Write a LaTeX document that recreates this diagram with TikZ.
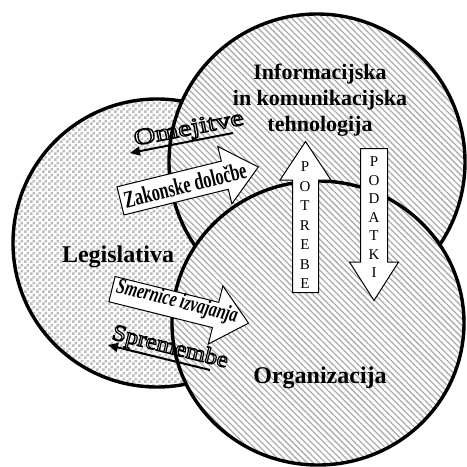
\documentclass[tikz,border=0pt]{standalone}
\usepackage{fontspec}
\setmainfont{Liberation Serif}
\usetikzlibrary{shapes.arrows, patterns.meta, arrows.meta}

% outline-only lettering (text render mode 1)
\newcommand\outlinetext[1]{%
  \special{pdf:literal direct 1 Tr 1.1 w}#1\special{pdf:literal direct 0 Tr 1 w}}

% small chequered tile for the legislation disc
\tikzdeclarepattern{
  name=chequer,
  type=uncolored,
  bottom left={(0pt,0pt)},
  top right={(6pt,6pt)},
  tile size={(6pt,6pt)},
  code={
    \fill (0pt,0pt) rectangle (3pt,3pt);
    \fill (3pt,3pt) rectangle (6pt,6pt);
  }
}

\begin{document}
\begin{tikzpicture}[x=1pt, y=-1pt,
  ring/.style={draw=black, line width=3.4pt, preaction={fill=white}},
  chequered/.style={ring, pattern=chequer, pattern color=black!26},
  hatched/.style={ring, pattern={Lines[angle=-45, distance=4.4pt, line width=1.3pt]}, pattern color=black!32},
  title/.style={font=\bfseries\fontsize{24}{28}\selectfont},
  blockarrow/.style={single arrow, draw=black, fill=white, line width=1pt,
    inner xsep=0pt, anchor=tail},
  hint/.style={line width=2pt, -{Triangle[length=10pt, width=9pt]}},
  hollow/.style={inner sep=0pt},
  letters/.style={align=center, inner sep=0pt, font=\fontsize{15}{19.5}\selectfont}
]
\useasboundingbox (0,0) rectangle (467,467);

% the three overlapping discs
\draw[chequered] (157,243) circle[radius=144];
\draw[hatched] (317,162) circle[radius=148];
\draw[hatched] (318,323) ellipse[x radius=146, y radius=142];

% disc titles
\node[title, anchor=base] (leg) at (118,262) {Legislativa};
\node[title, anchor=base] (org) at (320,383) {Organizacija};
\node[align=center, font=\bfseries\fontsize{22}{26}\selectfont] (ikt) at (320,100)
  {Informacijska\\in komunikacijska\\tehnologija};

% feedback lines towards the legislation
\coordinate (omTail) at (233,133);
\coordinate (omTip) at (130,153);
\draw[hint] (omTail) -- (omTip);
\node[hollow, rotate=11, font=\fontsize{23}{26}\selectfont] (omejitve) at (189,130)
  {\scalebox{1.3}[1]{\outlinetext{Omejitve}}};

\coordinate (spTail) at (210,370);
\coordinate (spTip) at (108,345);
\draw[hint] (spTail) -- (spTip);
\node[hollow, rotate=-14, font=\fontsize{23}{26}\selectfont] (spremembe) at (170,348)
  {\scalebox{1.08}[1]{\outlinetext{Spremembe}}};

% block arrows out of the legislation
\node[blockarrow, rotate=13.84, minimum height=142pt, inner ysep=14pt,
  single arrow head extend=15pt, single arrow tip angle=81] (zak) at (120,201) {};
\node[rotate=13.84, inner sep=0pt, font=\bfseries\fontsize{24}{26}\selectfont] (zakT) at (185,185)
  {\scalebox{0.68}[1]{Zakonske določbe}};

\node[blockarrow, rotate=-14, minimum height=140.7pt, inner ysep=12.5pt,
  single arrow head extend=17pt, single arrow tip angle=83] (smer) at (111.5,289) {};
\node[rotate=-14, inner sep=0pt, font=\bfseries\itshape\fontsize{22}{24}\selectfont] (smerT) at (177,302)
  {\scalebox{0.72}[1]{Smernice izvajanja}};

% vertical exchange between organisation and ICT
\node[blockarrow, rotate=90, minimum height=151pt, inner ysep=12.5pt,
  single arrow head extend=12.5pt, single arrow tip angle=67] (pot) at (305.5,293) {};
\node[letters] (potT) at (305,225.5) {P\\O\\T\\R\\E\\B\\E};

\node[blockarrow, rotate=-90, minimum height=152pt, inner ysep=13pt,
  single arrow head extend=11pt, single arrow tip angle=65] (pod) at (374,148) {};
\node[letters, font=\fontsize{15}{18.5}\selectfont] (podT) at (374,217.5) {P\\O\\D\\A\\T\\K\\I};
\end{tikzpicture}
\end{document}
